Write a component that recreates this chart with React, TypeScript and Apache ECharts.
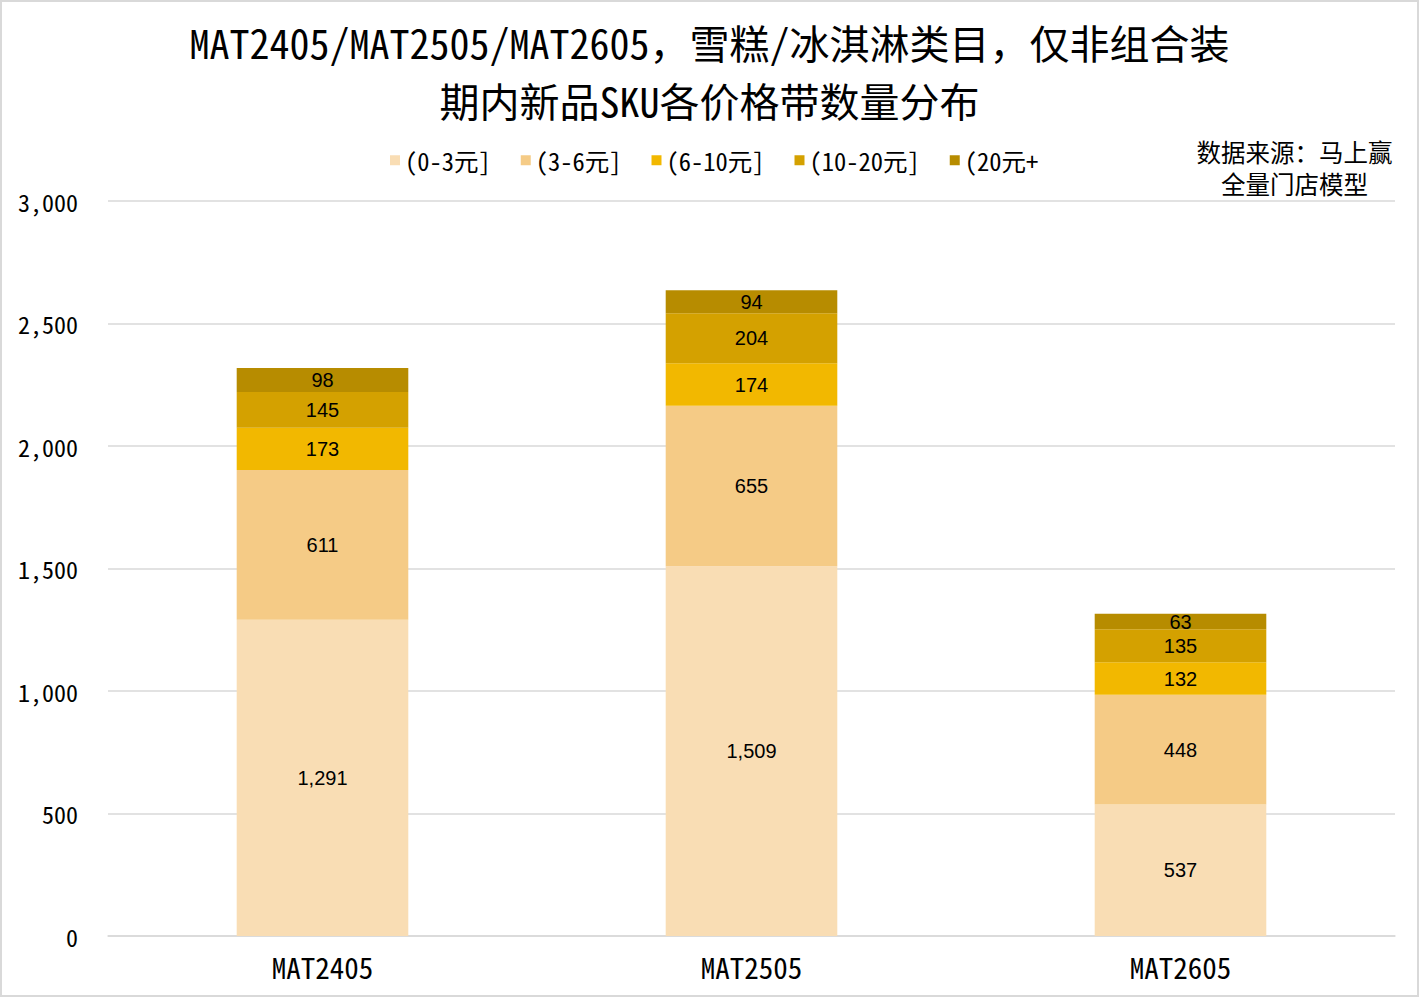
import React, { useEffect, useRef } from "react";
import * as echarts from "echarts";

const categories = ["MAT2405", "MAT2505", "MAT2605"];
const seriesNames = ["(0-3元]", "(3-6元]", "(6-10元]", "(10-20元]", "(20元+"];
const band0_3 = [1291, 1509, 537];
const band3_6 = [611, 655, 448];
const band6_10 = [173, 174, 132];
const band10_20 = [145, 204, 135];
const band20p = [98, 94, 63];
const colors = ["#F9DDB4", "#F5CB86", "#F2B800", "#D4A100", "#B78C00"];
const yTicks = [0, 500, 1000, 1500, 2000, 2500, 3000];

const MONO = "'Noto Sans Mono CJK SC', 'Noto Sans CJK SC', sans-serif";
const LABEL = "'Liberation Sans', 'Noto Sans CJK SC', sans-serif";

function fmt(v: number): string {
  return v.toLocaleString("en-US");
}

export default function App() {
  const ref = useRef<HTMLDivElement>(null);
  useEffect(() => {
    document.body.style.margin = "0";
    const chart = echarts.init(ref.current!, null, { renderer: "svg" });
    const data = [band0_3, band3_6, band6_10, band10_20, band20p];
    chart.setOption({
      animation: false,
      backgroundColor: "#FFFFFF",
      title: {
        text: "MAT2405/MAT2505/MAT2605，雪糕/冰淇淋类目，仅非组合装\n期内新品SKU各价格带数量分布",
        left: "center",
        top: 6,
        textStyle: {
          fontFamily: MONO,
          fontSize: 40,
          fontWeight: "normal",
          color: "#000",
          lineHeight: 58,
        },
      },
      legend: {
        data: seriesNames,
        left: 383,
        top: 141,
        itemWidth: 10,
        itemHeight: 10,
        itemGap: 30,
        icon: "rect",
        textStyle: { fontFamily: MONO, fontSize: 24.5, color: "#000" },
      },
      graphic: [
        {
          type: "text",
          x: 1292.5,
          y: 133,
          style: {
            text: "数据来源：马上赢\n全量门店模型",
            fontFamily: MONO,
            fontSize: 24.5,
            lineHeight: 32,
            fill: "#000",
            align: "center",
            verticalAlign: "top",
          },
        },
      ],
      grid: { left: 106, right: 22, top: 199, bottom: 59, containLabel: false },
      xAxis: {
        type: "category",
        data: categories,
        axisLine: { lineStyle: { color: "#D9D9D9", width: 1.5 } },
        axisTick: { show: false },
        axisLabel: {
          fontFamily: MONO,
          fontSize: 29,
          color: "#000",
          margin: 15,
        },
      },
      yAxis: {
        type: "value",
        min: yTicks[0],
        max: yTicks[yTicks.length - 1],
        interval: 500,
        axisLine: { show: false },
        axisTick: { show: false },
        splitLine: { lineStyle: { color: "#D9D9D9", width: 1.5 } },
        axisLabel: {
          fontFamily: MONO,
          fontSize: 24,
          color: "#000",
          margin: 30,
          formatter: (v: number) => fmt(v),
        },
      },
      series: seriesNames.map((name, i) => ({
        name,
        type: "bar",
        stack: "total",
        barWidth: "40%",
        data: data[i],
        itemStyle: { color: colors[i] },
        label: {
          show: true,
          position: "inside",
          fontFamily: LABEL,
          fontSize: 20,
          color: "#000",
          formatter: (p: any) => fmt(p.value),
        },
      })),
    });
    return () => chart.dispose();
  }, []);
  return (
    <div
      style={{
        width: 1419,
        height: 997,
        boxSizing: "border-box",
        border: "2px solid #D9D9D9",
        background: "#fff",
      }}
    >
      <div ref={ref} style={{ width: 1415, height: 993 }} />
    </div>
  );
}
